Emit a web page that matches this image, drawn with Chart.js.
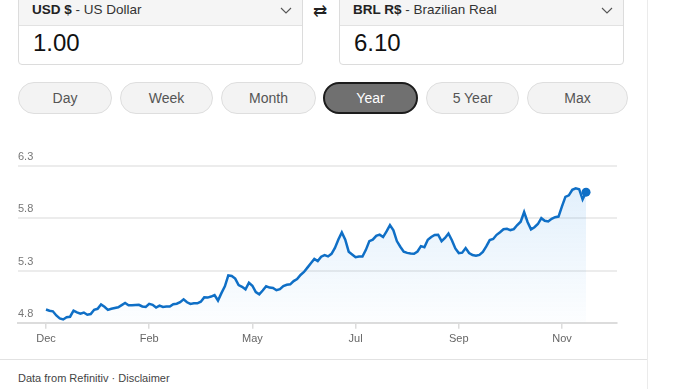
<!DOCTYPE html>
<html>
<head>
<meta charset="utf-8">
<script src="https://cdn.jsdelivr.net/npm/chart.js@4"></script>
<style>
    html, body { margin: 0; padding: 0; background: #fff; }
    body { width: 683px; height: 389px; position: relative; overflow: hidden; font-family: Arial, "Liberation Sans", sans-serif; }
    .card-edge { position: absolute; left: 647px; top: 0; width: 1px; height: 389px; background: #ebebeb; }
    .box { position: absolute; top: -1px; height: 66px; border: 1px solid #dcdcdc; border-radius: 0 0 4px 4px; box-sizing: border-box; background: #fff; }
    .box .head { height: 26px; background: #f5f5f5; border-bottom: 1px solid #e2e2e2; box-sizing: border-box; position: relative; }
    .box .head span { position: absolute; left: 13px; top: 2px; font-size: 13.5px; color: #333; }
    .box .head b { color: #222; }
    .box .head svg { position: absolute; right: 10px; top: 7px; }
    .box .val { position: absolute; left: 14px; top: 29px; font-size: 24px; color: #111; }
    .swap { position: absolute; left: 313px; top: 1px; font-size: 17px; color: #222; }
    .btn { position: absolute; top: 82px; height: 32px; border: 1px solid #dedede; background: #f3f3f3; border-radius: 16px; box-sizing: border-box; text-align: center; line-height: 30px; font-size: 14px; color: #555; }
    .btn.on { background: #707070; border: 2px solid #1c1c1c; color: #fff; line-height: 28px; }
    #wrap { position: absolute; left: 0; top: 140px; width: 647px; height: 215px; }
    .foot-line { position: absolute; left: 0; top: 359px; width: 647px; height: 1px; background: #e2e2e2; }
    .foot { position: absolute; left: 18px; top: 372px; font-size: 11px; color: #444; }
</style>
</head>
<body>
<div class="card-edge"></div>

<div class="box" style="left:18px;width:285px;">
    <div class="head"><span><b>USD $</b> - US Dollar</span>
        <svg width="12" height="8"><polyline points="1,1 6,6 11,1" fill="none" stroke="#555" stroke-width="1.1"/></svg></div>
    <div class="val">1.00</div>
</div>
<div class="swap">&#8644;</div>
<div class="box" style="left:339px;width:285px;">
    <div class="head"><span><b>BRL R$</b> - Brazilian Real</span>
        <svg width="12" height="8"><polyline points="1,1 6,6 11,1" fill="none" stroke="#555" stroke-width="1.1"/></svg></div>
    <div class="val">6.10</div>
</div>

<div class="btn" style="left:18px;width:94px;">Day</div>
<div class="btn" style="left:120px;width:93px;">Week</div>
<div class="btn" style="left:221px;width:95px;">Month</div>
<div class="btn on" style="left:323px;width:95px;">Year</div>
<div class="btn" style="left:426px;width:93px;">5 Year</div>
<div class="btn" style="left:527px;width:101px;">Max</div>

<div id="wrap"><canvas id="chart"></canvas></div>

<div class="foot-line"></div>
<div class="foot">Data from Refinitiv · Disclaimer</div>

<script>
// USD -> BRL, one year
var rates = [
    4.927, 4.915, 4.910, 4.870, 4.842, 4.832, 4.853, 4.858, 4.916, 4.899,
    4.887, 4.898, 4.877, 4.884, 4.925, 4.934, 4.975, 4.953, 4.924, 4.934,
    4.942, 4.949, 4.969, 4.989, 4.968, 4.968, 4.971, 4.972, 4.956, 4.951,
    4.981, 4.972, 4.946, 4.965, 4.951, 4.955, 4.956, 4.978, 4.983, 4.998,
    5.025, 4.996, 4.980, 4.986, 4.986, 5.002, 5.043, 5.041, 5.051, 5.065,
    5.013, 5.084, 5.149, 5.253, 5.248, 5.223, 5.160, 5.144, 5.120, 5.183,
    5.155, 5.094, 5.072, 5.109, 5.150, 5.137, 5.134, 5.112, 5.122, 5.151,
    5.164, 5.168, 5.199, 5.218, 5.258, 5.286, 5.328, 5.369, 5.411, 5.390,
    5.432, 5.448, 5.435, 5.460, 5.516, 5.597, 5.665, 5.595, 5.480, 5.454,
    5.428, 5.434, 5.434, 5.498, 5.581, 5.595, 5.632, 5.643, 5.620, 5.674,
    5.734, 5.685, 5.582, 5.528, 5.481, 5.469, 5.463, 5.461, 5.482, 5.533,
    5.523, 5.595, 5.621, 5.641, 5.643, 5.581, 5.612, 5.654, 5.590, 5.511,
    5.467, 5.471, 5.515, 5.468, 5.448, 5.442, 5.450, 5.479, 5.531, 5.591,
    5.602, 5.642, 5.667, 5.695, 5.699, 5.687, 5.696, 5.735, 5.767, 5.860,
    5.765, 5.694, 5.714, 5.745, 5.801, 5.776, 5.769, 5.795, 5.810, 5.816,
    5.913, 6.005, 6.019, 6.072, 6.086, 6.078, 5.980, 6.050
];
var monthLabels = ['Dec', 'Feb', 'May', 'Jul', 'Sep', 'Nov'];
var monthIndex = [0, 30, 60, 90, 120, 150];
var yTicks = [4.8, 5.3, 5.8, 6.3];

var points = rates.map(function (v, i) { return { x: i, y: v }; });
var last = rates.length - 1;

function areaFill(ctx) {
    var area = ctx.chart.chartArea;
    if (!area) return 'rgba(25,118,210,0.08)';
    var g = ctx.chart.ctx.createLinearGradient(0, area.top + 20, 0, area.bottom);
    g.addColorStop(0, 'rgba(30,136,229,0.13)');
    g.addColorStop(1, 'rgba(30,136,229,0.01)');
    return g;
}

new Chart(document.getElementById('chart'), {
    type: 'line',
    data: {
        datasets: [{
            data: points,
            borderColor: '#0f6fc6',
            borderWidth: 2.5,
            backgroundColor: areaFill,
            fill: 'start',
            tension: 0,
            pointRadius: function (ctx) { return ctx.dataIndex === last ? 4.5 : 0; },
            pointBackgroundColor: '#0f6fc6',
            pointBorderWidth: 0,
        }],
    },
    options: {
        responsive: true,
        maintainAspectRatio: false,
        animation: false,
        layout: { padding: { left: 18, right: 30, top: 26, bottom: 5 } },
        plugins: { legend: { display: false }, tooltip: { enabled: false } },
        scales: {
            x: {
                type: 'linear',
                min: -8.14,
                max: 166,
                afterBuildTicks: function (axis) {
                    axis.ticks = monthIndex.map(function (v) { return { value: v }; });
                },
                ticks: {
                    autoSkip: false,
                    maxRotation: 0,
                    padding: 4,
                    color: '#666',
                    font: { family: 'Arial, "Liberation Sans", sans-serif', size: 11 },
                    callback: function (value) {
                        var k = monthIndex.indexOf(value);
                        return k >= 0 ? monthLabels[k] : '';
                    },
                },
                grid: { drawOnChartArea: false, drawTicks: true, tickLength: 6, color: '#dcdcdc', lineWidth: 1.5 },
                border: { display: true, color: '#dcdcdc', width: 2 },
            },
            y: {
                min: 4.8,
                max: 6.3,
                afterBuildTicks: function (axis) {
                    axis.ticks = yTicks.map(function (v) { return { value: v }; });
                },
                ticks: {
                    mirror: true,
                    padding: 0,
                    labelOffset: -9,
                    color: '#777',
                    font: { family: 'Arial, "Liberation Sans", sans-serif', size: 11 },
                    callback: function (v) { return Number(v).toFixed(1); },
                },
                grid: { drawTicks: false, color: '#ececec', lineWidth: 2 },
                border: { display: false },
            },
        },
    },
});
</script>
</body>
</html>
